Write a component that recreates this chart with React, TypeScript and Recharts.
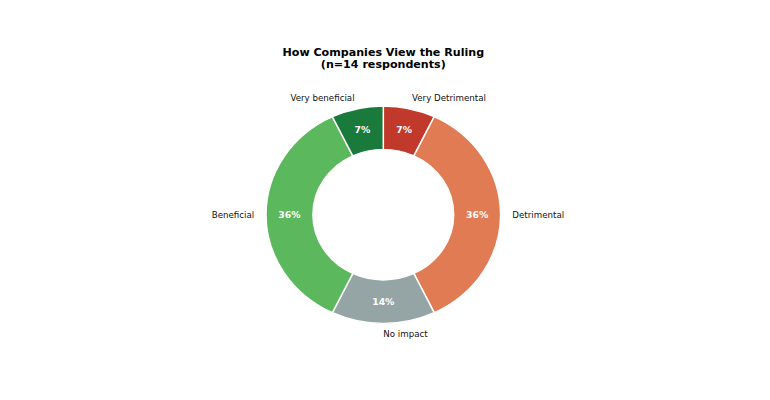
import React from "react";
import { PieChart, Pie, Cell } from "recharts";

const categories = ["Very Detrimental", "Detrimental", "No impact", "Beneficial", "Very beneficial"];
const counts = [1, 5, 2, 5, 1];
const colors = ["#c0392b", "#e07b53", "#95a5a6", "#5cb85c", "#1a7a3c"];
const titleLines = ["How Companies View the Ruling", "(n=14 respondents)"];

const data = categories.map((name, i) => ({ name, value: counts[i] }));

const SY = 0.927;
const W = 770;
const H = 400 / SY;
const CX = 383.3;
const CY = 214.7 / SY;
const R_OUT = 117.3;
const R_IN = R_OUT * 0.6;
const RAD = Math.PI / 180;
const FONT = "DejaVu Sans";

const renderLabel = (props: any) => {
  const { cx, cy, midAngle, outerRadius, percent, name } = props;
  const c = Math.cos(-midAngle * RAD);
  const s = Math.sin(-midAngle * RAD);
  const px = cx + outerRadius * 0.8 * c;
  const py = cy + outerRadius * 0.8 * s;
  const lx = cx + outerRadius * 1.1 * c;
  const ly = cy + outerRadius * 1.1 * s;
  const anchor = c > -1e-9 ? "start" : "end";
  return (
    <g>
      <text
        x={px}
        y={py}
        textAnchor="middle"
        dominantBaseline="central"
        fill="#ffffff"
        fontFamily={FONT}
        fontWeight="bold"
        fontSize={9.3}
      >
        {`${Math.round(percent * 100)}%`}
      </text>
      <text
        x={lx}
        y={ly}
        textAnchor={anchor}
        dominantBaseline="central"
        fill="#111111"
        fontFamily={FONT}
        fontSize={8.7}
      >
        {name}
      </text>
    </g>
  );
};

export default function App() {
  return (
    <div
      style={{
        position: "absolute",
        left: 0,
        top: 0,
        width: W,
        height: H,
        transform: `scaleY(${SY})`,
        transformOrigin: "0 0",
        background: "#ffffff",
      }}
    >
      <svg
        width={W}
        height={100}
        style={{ position: "absolute", left: 0, top: 0 }}
      >
        {titleLines.map((t, i) => (
          <text
            key={i}
            x={CX}
            y={60.4 + i * 12.7}
            textAnchor="middle"
            fontFamily={FONT}
            fontWeight="bold"
            fontSize={11.1}
            fill="#000000"
          >
            {t}
          </text>
        ))}
      </svg>
      <div style={{ position: "absolute", left: 0, top: 0 }}>
        <PieChart width={W} height={H} margin={{ top: 0, right: 0, bottom: 0, left: 0 }}>
          <Pie
            data={data}
            dataKey="value"
            nameKey="name"
            cx={CX}
            cy={CY}
            outerRadius={R_OUT}
            innerRadius={R_IN}
            startAngle={90}
            endAngle={-270}
            stroke="#ffffff"
            strokeWidth={1.5}
            label={renderLabel}
            labelLine={false}
            isAnimationActive={false}
          >
            {data.map((d, i) => (
              <Cell key={d.name} fill={colors[i]} />
            ))}
          </Pie>
        </PieChart>
      </div>
    </div>
  );
}
